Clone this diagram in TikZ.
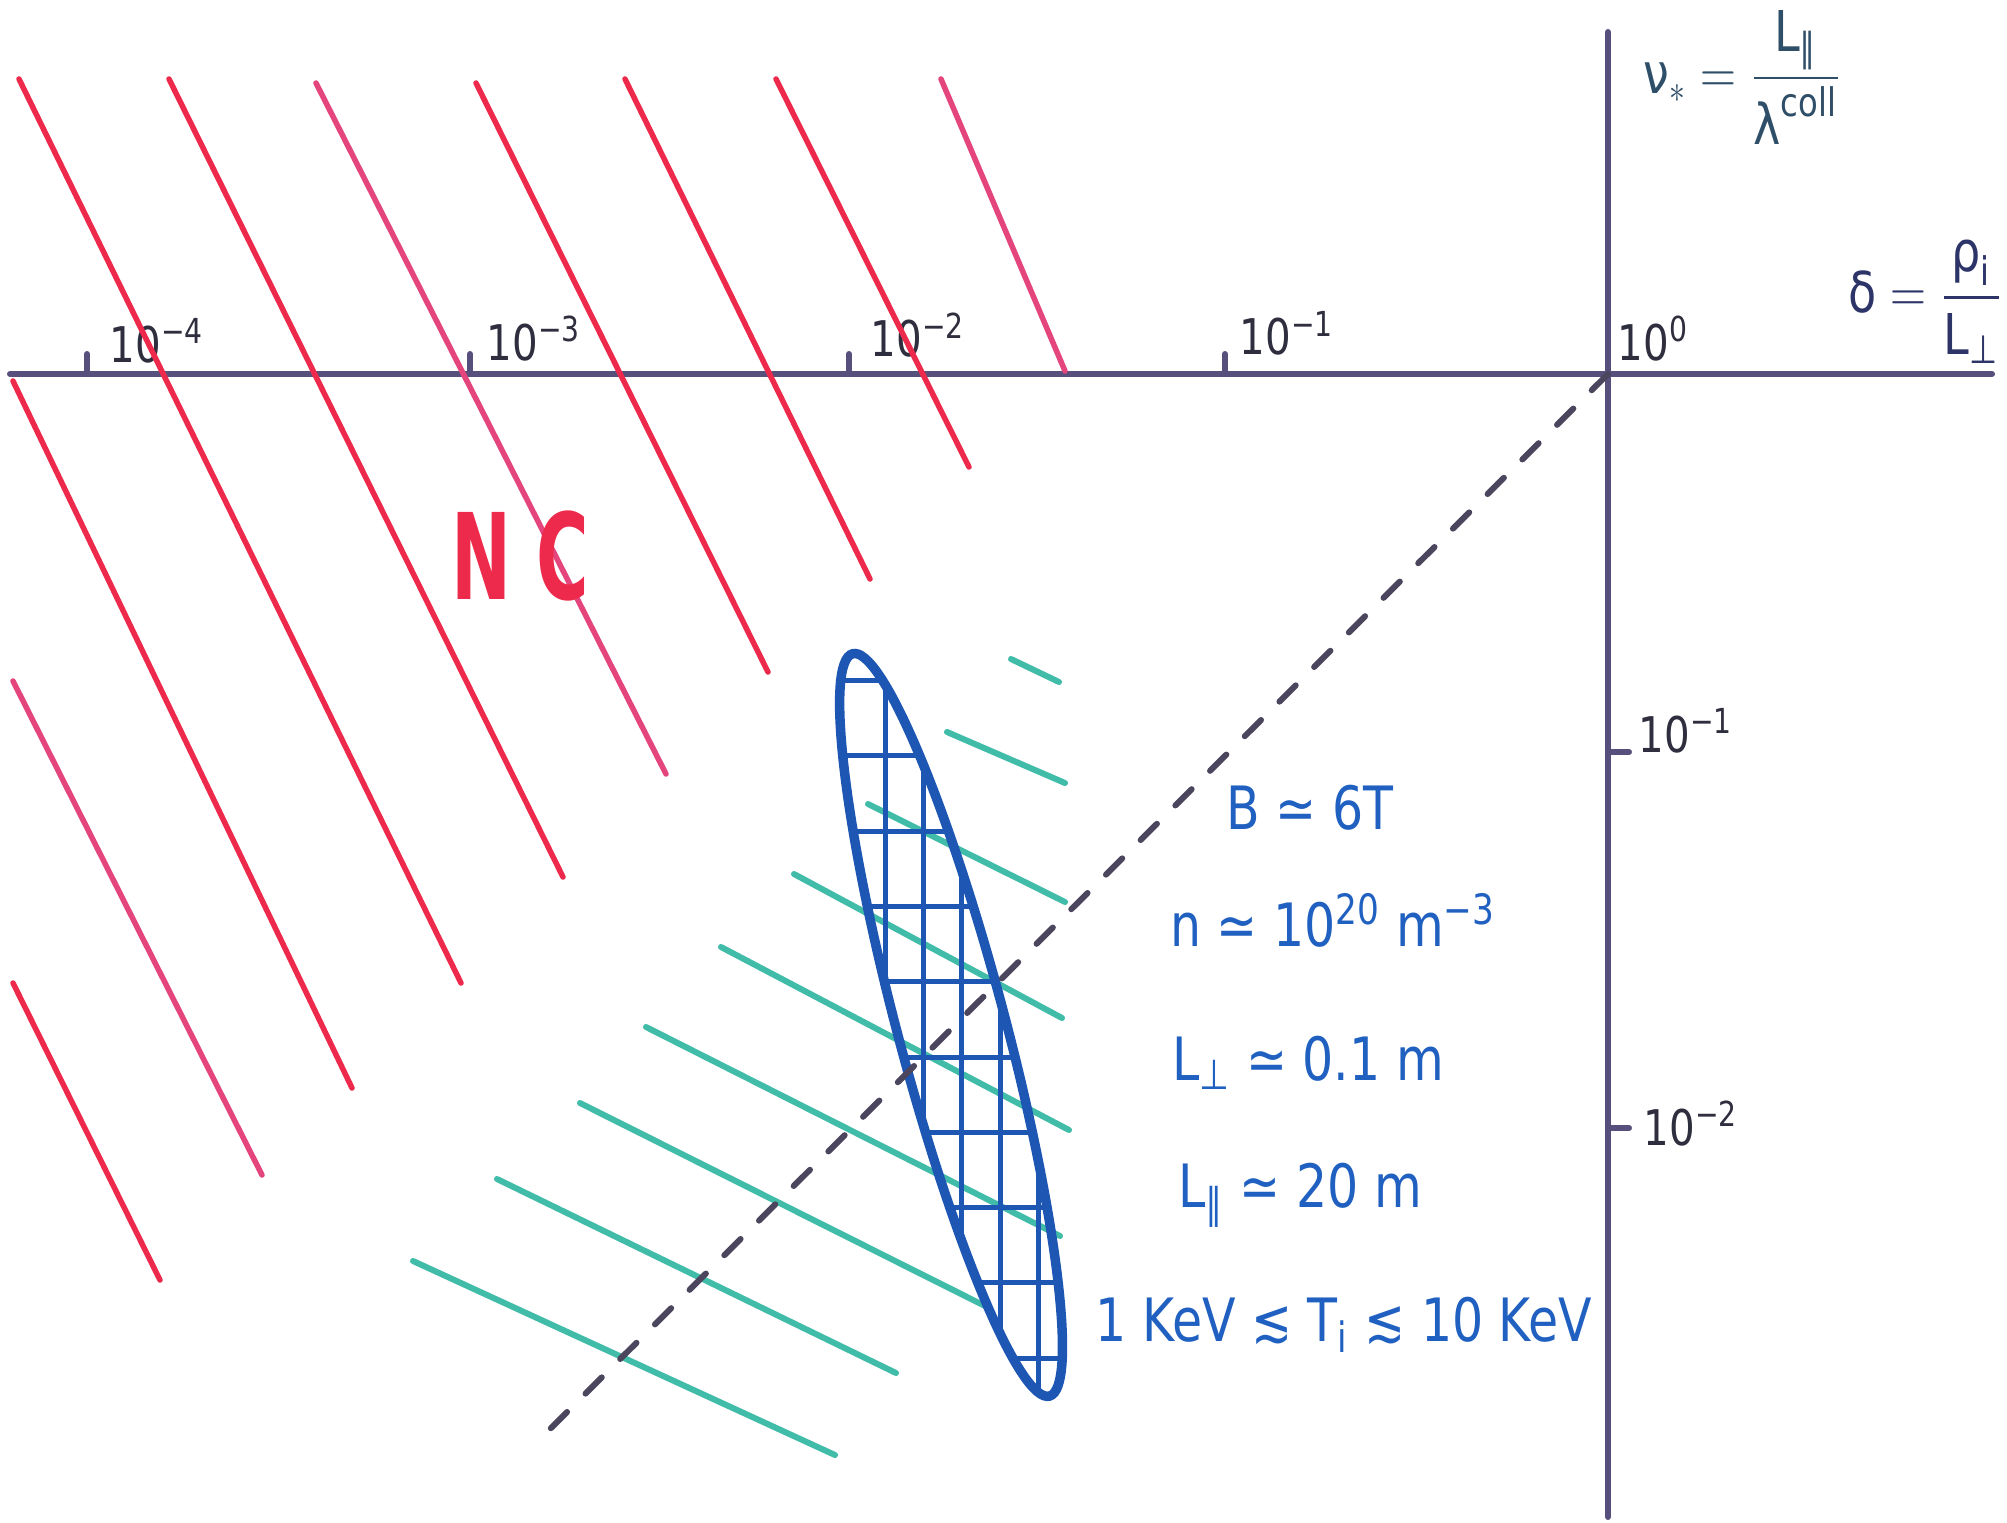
\documentclass[tikz,border=0pt]{standalone}
\usepackage{fontspec}
\usepackage{amsmath}
\usepackage{graphicx}
\setmainfont{DejaVu Sans}
\definecolor{axiscol}{HTML}{58507C}
\definecolor{redl}{HTML}{EE2A4C}
\definecolor{pinkl}{HTML}{E3457C}
\definecolor{tealc}{HTML}{40BCA8}
\definecolor{ovalblue}{HTML}{1E56B4}
\definecolor{dashc}{HTML}{4B465E}
\definecolor{parblue}{HTML}{2060C0}
\definecolor{ticktext}{HTML}{2E2E3E}
\definecolor{nucol}{HTML}{2F4E68}
\definecolor{delcol}{HTML}{2D3468}
\newcommand{\sqz}[1]{\scalebox{0.82}[1]{#1}}
\begin{document}
\begin{tikzpicture}[x=0.1mm,y=-0.1mm,
  axisline/.style={line width=0.6mm, draw=axiscol, line cap=round},
  tickmark/.style={line width=0.6mm, draw=axiscol, line cap=round},
  ncline/.style={line width=0.55mm, line cap=round},
  hatchteal/.style={line width=0.6mm, draw=tealc, line cap=round},
  ovalline/.style={line width=0.95mm, draw=ovalblue},
  gridline/.style={line width=0.5mm, draw=ovalblue},
  diag/.style={line width=0.6mm, draw=dashc, line cap=round, dash pattern=on 2.3mm off 2.6mm},
  ticklab/.style={text=ticktext, font=\fontsize{14}{16}\selectfont, inner sep=0pt},
  axislab/.style={font=\fontsize{16}{20}\selectfont, inner sep=0pt},
  param/.style={text=parblue, font=\fontsize{17}{20}\selectfont, inner sep=0pt},
]
\useasboundingbox[fill=white] (0,0) rectangle (2007,1523);

% axes
\coordinate (xs) at (10,374);
\coordinate (xe) at (1992,374);
\coordinate (ys) at (1608,32);
\coordinate (ye) at (1608,1517);
\coordinate (O) at (1608,374);
\draw[axisline] (xs) -- (xe);
\draw[axisline] (ys) -- (ye);

% ticks
\foreach \tx in {87,470,849,1225} \draw[tickmark] (\tx,354) -- (\tx,374);
\foreach \ty in {752,1128} \draw[tickmark] (1608,\ty) -- (1629,\ty);

% tick labels
\node[ticklab, anchor=base west] (tx4) at (109,362) {\sqz{10\textsuperscript{−4}}};
\node[ticklab, anchor=base west] (tx3) at (486,360) {\sqz{10\textsuperscript{−3}}};
\node[ticklab, anchor=base west] (tx2) at (870,357) {\sqz{10\textsuperscript{−2}}};
\node[ticklab, anchor=base west] (tx1) at (1239,355) {\sqz{10\textsuperscript{−1}}};
\node[ticklab, anchor=base west] (tx0) at (1617,360) {\sqz{10\textsuperscript{0}}};
\node[ticklab, anchor=base west] (ty1) at (1638,752) {\sqz{10\textsuperscript{−1}}};
\node[ticklab, anchor=base west] (ty2) at (1643,1145) {\sqz{10\textsuperscript{−2}}};

% axis titles
\node[axislab, text=nucol, anchor=north west] (nu) at (1643,10)
  {\sqz{$\text{ν}_{*}=\dfrac{\text{L}_{\text{∥}}}{\text{λ}^{\text{coll}}}$}};
\node[axislab, text=delcol, anchor=south east] (del) at (2003,364)
  {\sqz{$\text{δ}=\dfrac{\text{ρ}_{\text{i}}}{\text{L}_{\text{⊥}}}$}};

% red (NC) hatching
\foreach \xa/\ya/\xb/\yb/\cc in {
  19/79/461/983/redl, 169/79/563/877/redl, 316/83/666/774/pinkl,
  476/83/768/672/redl, 625/79/870/579/redl, 776/79/969/467/redl,
  941/79/1065/371/pinkl, 13/381/352/1088/redl, 13/681/262/1175/pinkl,
  13/983/160/1280/redl}
  \draw[ncline, draw=\cc] (\xa,\ya) -- (\xb,\yb);

\node[text=redl, font=\fontsize{34}{40}\selectfont\bfseries] (nc) at (520,556) {\scalebox{0.6}[1]{N C}};

% teal hatching
\foreach \xa/\ya/\xb/\yb in {
  1011/659/1059/682, 947/732/1065/783, 868/804/1065/902,
  794/874/1062/1018, 721/947/1069/1130, 646/1027/1060/1236,
  580/1103/989/1308, 497/1179/896/1373, 413/1261/835/1455}
  \draw[hatchteal] (\xa,\ya) -- (\xb,\yb);

% blue cross-hatched oval
\coordinate (ec) at (951,1025);
\begin{scope}
  \clip[rotate around={-75.15:(ec)}] (ec) ellipse [x radius=38.4mm, y radius=5.4mm];
  \foreach \yy in {680,755,831,906,981,1057,1132,1207,1282,1358}
    \draw[gridline] (800,\yy) -- (1100,\yy);
  \foreach \xx in {885,923,961,1000,1038}
    \draw[gridline] (\xx,620) -- (\xx,1420);
\end{scope}
\draw[ovalline, rotate around={-75.15:(ec)}] (ec) ellipse [x radius=38.4mm, y radius=5.4mm];

% dashed diagonal
\coordinate (dend) at (548,1431);
\draw[diag] (O) -- (dend);

% parameters
\node[param] (pB) at (1310,808) {\sqz{B ≃ 6T}};
\node[param] (pn) at (1333,920) {\sqz{n ≃ 10\textsuperscript{20} m\textsuperscript{−3}}};
\node[param] (pLp) at (1308,1063) {\sqz{L\textsubscript{⊥} ≃ 0.1 m}};
\node[param] (pLl) at (1300,1195) {\sqz{L\textsubscript{∥} ≃ 20 m}};
\node[param] (pT) at (1344,1325) {\sqz{1 KeV ≲ T\textsubscript{i} ≲ 10 KeV}};
\end{tikzpicture}
\end{document}
